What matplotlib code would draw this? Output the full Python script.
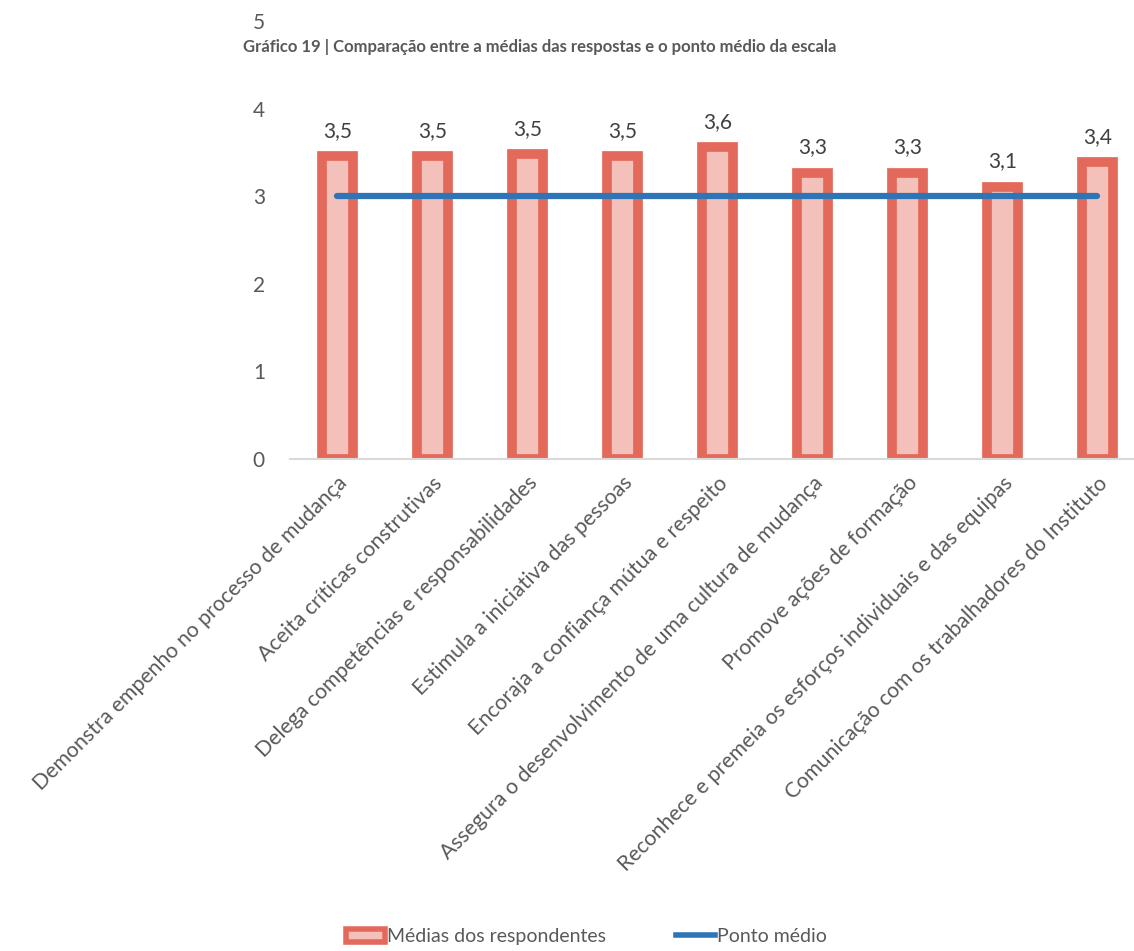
import matplotlib.pyplot as plt
from matplotlib.patches import Patch
from matplotlib.lines import Line2D

categories = [
    "Demonstra empenho no processo de mudança",
    "Aceita críticas construtivas",
    "Delega competências e responsabilidades",
    "Estimula a iniciativa das pessoas",
    "Encoraja a confiança mútua e respeito",
    "Assegura o desenvolvimento de uma cultura de mudança",
    "Promove ações de formação",
    "Reconhece e premeia os esforços individuais e das equipas",
    "Comunicação com os trabalhadores do Instituto",
]
medias = [3.46, 3.46, 3.48, 3.46, 3.56, 3.27, 3.27, 3.11, 3.39]
ponto_medio = [3, 3, 3, 3, 3, 3, 3, 3, 3]

gray = "#595959"
red = "#E36A5B"
pink = "#F4C1BA"
blue = "#2E75B6"
plt.rcParams["font.family"] = ["Lato", "DejaVu Sans"]

fig = plt.figure(figsize=(11.34, 9.51), dpi=100)
ax = fig.add_axes([0.2557, 0.5174, 0.754, 0.46])

x = list(range(len(categories)))
ax.bar(x, medias, width=0.33, color=pink, edgecolor=red, linewidth=7, zorder=2)
ax.plot(x, ponto_medio, color=blue, linewidth=4.5, solid_capstyle="round", zorder=3)

for xi, v in zip(x, medias):
    ax.annotate(f"{v:.1f}".replace(".", ","), (xi, v), xytext=(0, 11),
                textcoords="offset points", ha="center", va="bottom",
                fontsize=15, color="#404040")

ax.set_xlim(-0.5, len(categories) - 0.5)
ax.set_ylim(0, 5)
ax.set_yticks([0, 1, 2, 3, 4, 5])
ax.set_xticks(x)
ax.set_xticklabels(categories, rotation=45, ha="right", rotation_mode="anchor",
                   fontsize=15.3, color=gray)
ax.tick_params(axis="y", labelsize=15, labelcolor=gray, length=0, pad=18)
ax.tick_params(axis="x", length=0, pad=10)
for s in ["top", "right", "left"]:
    ax.spines[s].set_visible(False)
ax.spines["bottom"].set_color("#D9D9D9")
ax.spines["bottom"].set_linewidth(1.5)
ax.spines["bottom"].set_zorder(4)

fig.text(0.476, 0.951, "Gráfico 19 | Comparação entre a médias das respostas e o ponto médio da escala",
         ha="center", va="center", fontsize=12, fontweight="bold", color=gray)

handles = [
    Patch(facecolor=pink, edgecolor=red, linewidth=4, label="Médias dos respondentes"),
    Line2D([0], [0], color=blue, linewidth=4, label="Ponto médio"),
]
fig.legend(handles=handles, loc="center", bbox_to_anchor=(0.517, 0.015), ncol=2,
           frameon=False, fontsize=14, labelcolor=gray, handlelength=2.0,
           handletextpad=0.1, columnspacing=3.6)

fig.savefig("out.png", dpi=100)
